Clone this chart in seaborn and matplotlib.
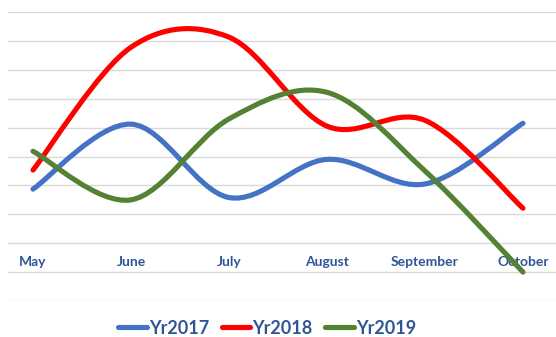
import matplotlib
matplotlib.use("Agg")
import matplotlib.pyplot as plt
import seaborn as sb
import numpy as np
import pandas as pd
from matplotlib.path import Path
from matplotlib.patches import PathPatch
from matplotlib.lines import Line2D

# values (one gridline = 1 unit)
months = ['May', 'June', 'July', 'August', 'September', 'October']
yr2017 = [1.87, 4.12, 1.58, 2.90, 2.05, 4.15]
yr2018 = [2.53, 6.78, 7.13, 4.05, 4.25, 1.21]
yr2019 = [3.18, 1.50, 4.30, 5.22, 2.50, -1.00]

series_names = ['Yr2017', 'Yr2018', 'Yr2019']
colors = ['#4472C4', '#FF0000', '#548235']
label_color = '#2F5597'

df = pd.DataFrame({
    'month': months * 3,
    'pos': list(range(len(months))) * 3,
    'value': yr2017 + yr2018 + yr2019,
    'series': np.repeat(series_names, len(months)),
})


def smooth_path(xs, ys):
    # Excel-like smoothed line: cubic bezier through the points (Catmull-Rom tangents)
    pts = np.column_stack([xs, ys]).astype(float)
    n = len(pts)
    verts = [pts[0]]
    codes = [Path.MOVETO]
    for i in range(n - 1):
        p_prev = pts[i - 1] if i > 0 else pts[i]
        p_next2 = pts[i + 2] if i + 2 < n else pts[i + 1]
        c1 = pts[i] + (pts[i + 1] - p_prev) / 6
        c2 = pts[i + 1] - (p_next2 - pts[i]) / 6
        verts += [c1, c2, pts[i + 1]]
        codes += [Path.CURVE4] * 3
    return Path(verts, codes)


sb.set_theme(style='white')
plt.rcParams['font.family'] = ['Lato', 'DejaVu Sans']

fig = plt.figure(figsize=(5.56, 3.37), dpi=100)
ax = fig.add_axes([8 / 556, 36 / 337, 548 / 556, 289 / 337])

# seaborn sets up the scales; the visible smooth curves are drawn as bezier paths
sb.lineplot(ax=ax, data=df, x='pos', y='value', hue='series', palette=colors,
            linewidth=0, legend=False)

for name, col in zip(series_names, colors):
    sub = df[df['series'] == name]
    patch = PathPatch(smooth_path(sub['pos'], sub['value']), fill=False,
                      edgecolor=col, linewidth=3.7, capstyle='round', zorder=3)
    ax.add_patch(patch)

ax.set_xlim(-0.255, 5.337)
ax.set_ylim(-2, 8)
ax.set_yticks(range(-2, 9))
ax.set_yticklabels([])
ax.yaxis.grid(True, color='#D9D9D9', linewidth=1)
ax.xaxis.grid(False)
for s in ax.spines.values():
    s.set_visible(False)
ax.spines['bottom'].set_position(('data', 0))
ax.set_xticks(range(len(months)))
ax.set_xticklabels(months, fontsize=10, fontweight='bold', color=label_color)
ax.tick_params(axis='x', length=0, pad=9)
ax.tick_params(axis='y', length=0)
ax.set_xlabel('')
ax.set_ylabel('')

handles = [Line2D([0], [0], color=c, linewidth=3.7, solid_capstyle='round') for c in colors]
leg = fig.legend(handles, series_names, loc='center', bbox_to_anchor=(267 / 556, 9 / 337),
                 ncol=3, frameon=False, handlelength=1.6, handletextpad=0.1,
                 columnspacing=0.7, prop={'family': 'Lato', 'weight': 'bold', 'size': 13})
for t in leg.get_texts():
    t.set_color(label_color)

fig.savefig('out.png', dpi=100)
